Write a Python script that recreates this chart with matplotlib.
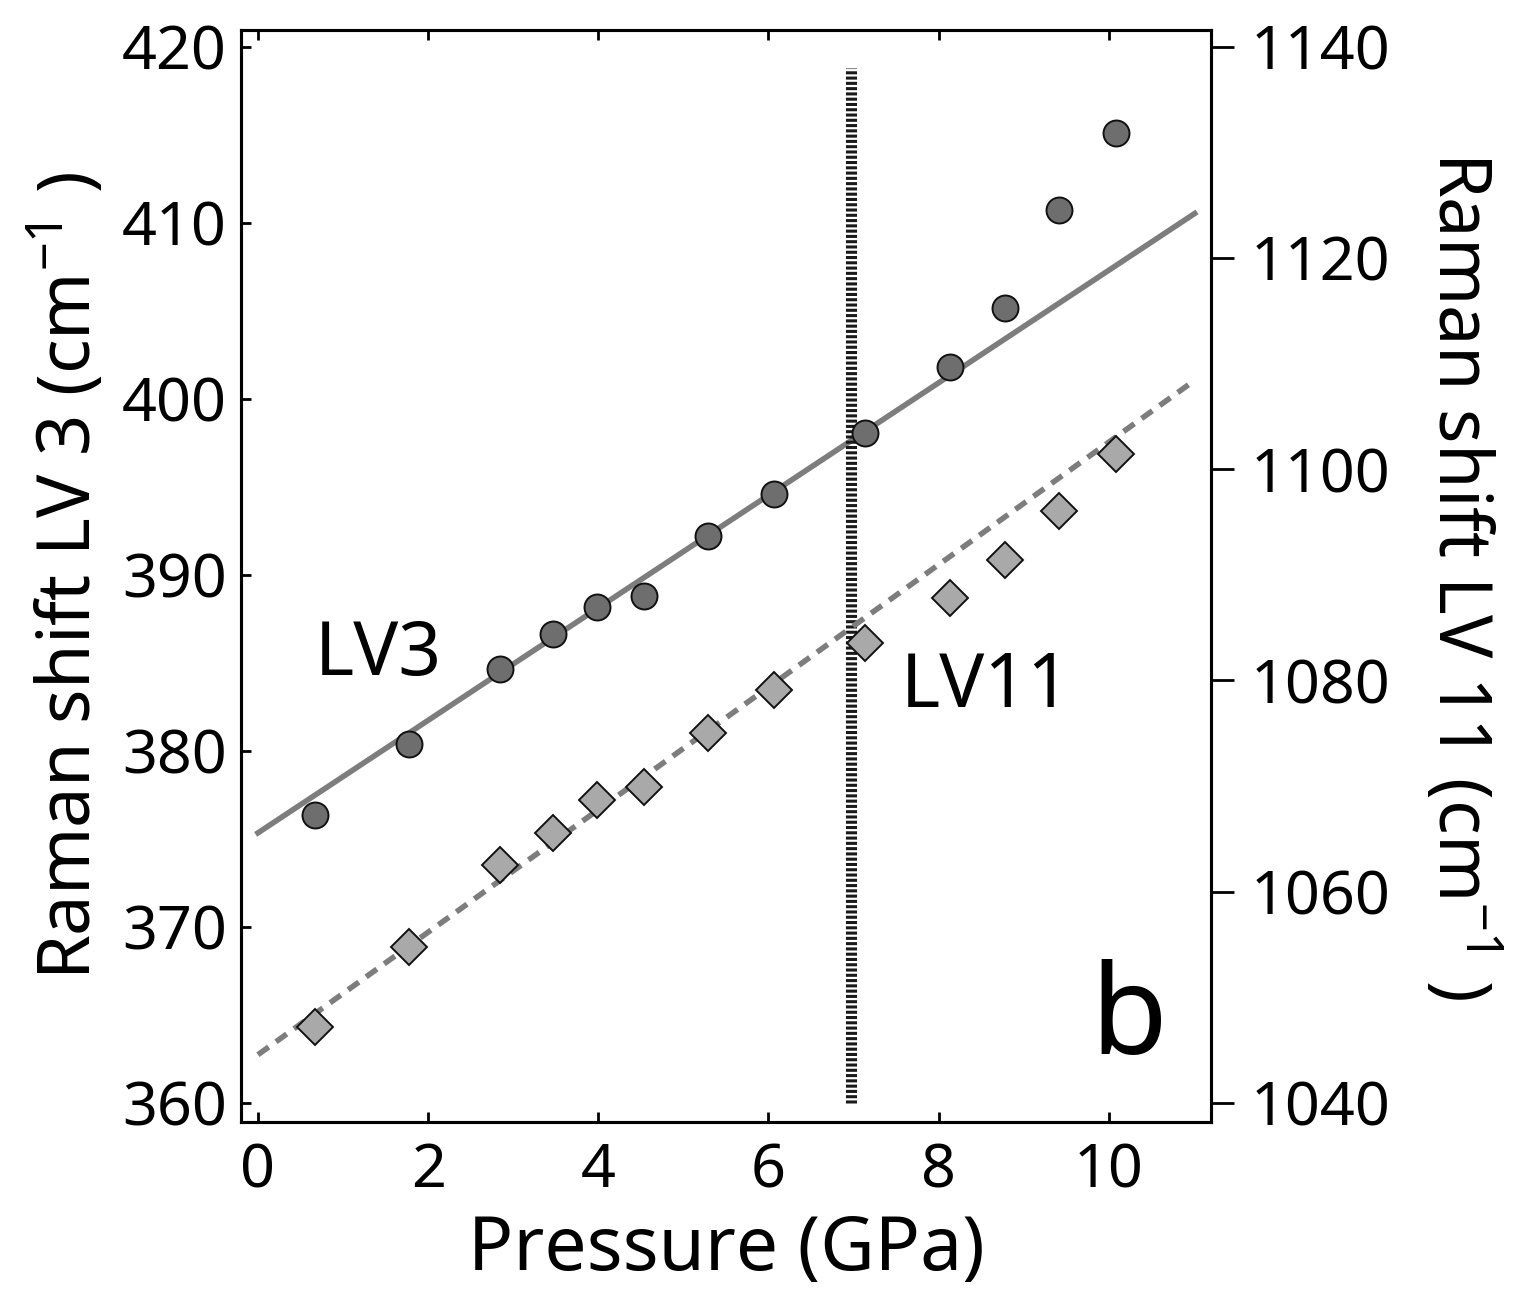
import matplotlib
matplotlib.use("Agg")
import matplotlib.pyplot as plt
import numpy as np

plt.rcParams["font.family"] = ["Noto Sans", "DejaVu Sans"]
plt.rcParams["mathtext.default"] = "regular"
plt.rcParams["lines.scale_dashes"] = False

# 圧力 (GPa)
pressure = [0.67, 1.77, 2.84, 3.47, 3.98, 4.54, 5.29, 6.06, 7.13, 8.13, 8.78, 9.41, 10.08]
# LV3 ラマンシフト (cm-1)
lv3 = [376.36, 380.40, 384.66, 386.65, 388.18, 388.81, 392.22, 394.60,
       398.07, 401.82, 405.17, 410.74, 415.11]
# LV11 ラマンシフト (cm-1)
lv11 = [1047.2, 1054.8, 1062.5, 1065.6, 1068.7, 1069.9, 1075.0, 1079.1,
        1083.5, 1087.8, 1091.4, 1096.0, 1101.4]

# 直線フィット (切片, 傾き)
lv3_fit = (375.34, 3.196)
lv11_fit = (1044.56, 5.80)
fit_range = (0.0, 11.01)

# 相転移圧力
p_transition = 6.97

left_ticks = [360, 370, 380, 390, 400, 410, 420]
right_ticks = [1040, 1060, 1080, 1100, 1120, 1140]
x_ticks = [0, 2, 4, 6, 8, 10]

fig = plt.figure(figsize=(15.25, 12.91), dpi=100)
ax = fig.add_axes([0.158, 0.131, 0.636, 0.846])
ax2 = ax.twinx()

ylim_left = (358.92, 420.97)
ax.set_xlim(-0.2, 11.2)
ax.set_ylim(*ylim_left)
# 右軸は左軸と同じ目盛り位置になるように変換
ax2.set_ylim(1040 + (ylim_left[0] - 360) * 100 / 60, 1040 + (ylim_left[1] - 360) * 100 / 60)

line_grey = "#7d7d7d"
xf = np.array(fit_range)

ax.plot(xf, lv3_fit[0] + lv3_fit[1] * xf, color=line_grey, lw=4, zorder=2)
ax2.plot(xf, lv11_fit[0] + lv11_fit[1] * xf, color=line_grey, lw=4,
         dashes=(9.5, 6.5), dash_capstyle="butt", zorder=2)

ax.plot([p_transition, p_transition], [360, 418.8], color="#1a1a1a", lw=8,
        dashes=(2.2, 1.6), dash_capstyle="butt", zorder=3)

ax.plot(pressure, lv3, "o", ms=18.7, mfc="#6e6e6e", mec="#111111", mew=1.4, zorder=4)
ax2.plot(pressure, lv11, "D", ms=18, mfc="#a9a9a9", mec="#111111", mew=1.4, zorder=4)

ax.text(1.42, 385.4, "LV3", fontsize=54, ha="center", va="center")
ax.text(8.55, 383.6, "LV11", fontsize=54, ha="center", va="center")
ax.text(10.23, 364.6, "b", fontsize=90, ha="center", va="center")

ax.set_xticks(x_ticks)
ax.set_yticks(left_ticks)
ax2.set_yticks(right_ticks)

ax.tick_params(axis="both", direction="in", length=7, width=2, labelsize=44, pad=12)
ax.tick_params(axis="x", top=True, pad=14)
ax.tick_params(axis="y", right=False, pad=10)
ax2.tick_params(axis="y", direction="out", length=16.5, width=2, labelsize=44, pad=12)

for a in (ax, ax2):
    for s in a.spines.values():
        s.set_linewidth(2.2)

ax.set_xlabel("Pressure (GPa)", fontsize=54, labelpad=8)
ax.set_ylabel("Raman shift LV 3 (cm$^{-1}$ )", fontsize=52, labelpad=10)
ax2.set_ylabel("Raman shift LV 11 (cm$^{-1}$ )", fontsize=52, rotation=-90, labelpad=80)

fig.savefig("out.png", dpi=100)
